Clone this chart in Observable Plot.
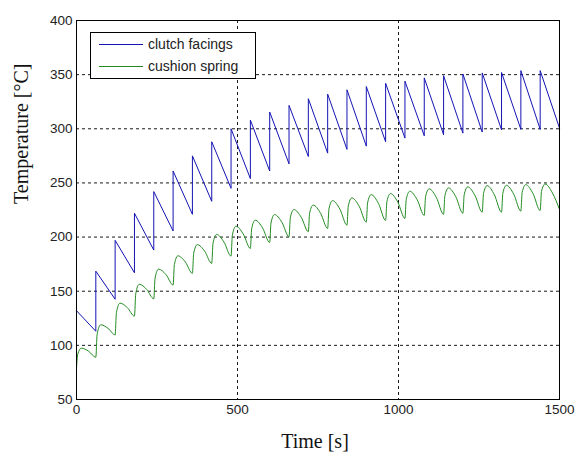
<!DOCTYPE html>
<html>
<head>
<meta charset="utf-8">
<script src="https://cdn.jsdelivr.net/npm/d3@7"></script>
<script src="https://cdn.jsdelivr.net/npm/@observablehq/plot@0.6"></script>
<style>
html, body { margin: 0; padding: 0; background: #fff; }
#wrap { position: relative; width: 575px; height: 452px; overflow: hidden; }
#legend { position: absolute; left: 90px; top: 32px; width: 164px; height: 45px; border: 1px solid #000; background: #fff;
  font-family: "Liberation Sans", Arial, sans-serif; font-size: 14px; color: #222; }
#legend .row { position: absolute; left: 0; width: 164px; height: 16px; }
#legend .sw { position: absolute; left: 8px; top: 8px; width: 44px; height: 0; border-top: 1px solid; }
#legend .lab { position: absolute; left: 57px; top: 0; line-height: 16px; white-space: nowrap; }
</style>
</head>
<body>
<div id="wrap"></div>
<script>
// ---- data ----
const xTicks = [0, 500, 1000, 1500];
const yTicks = [50, 100, 150, 200, 250, 300, 350, 400];
const seriesNames = ["clutch facings", "cushion spring"];
const seriesColors = ["#1414b4", "#228c22"];

// cycle boundaries (s): each cycle starts with a jump of the facing temperature
const cycleBounds = [0, 60, 120, 180, 240, 300, 360, 420, 480, 540, 600, 660, 720, 780, 840, 900,
  960, 1020, 1080, 1140, 1200, 1260, 1320, 1380, 1440, 1500];

// clutch facings: temperature before first jump, peak after each jump, value at end of each cycle
const blueInitial = 87;
const bluePeak = [132, 168.5, 197, 222, 242, 261, 275, 288, 300, 308, 315.5, 321.6, 327.8, 332, 336, 339,
  342, 344, 347, 349, 350.6, 351.6, 352, 353.7, 353.7];
const blueEnd = [113, 142.6, 167, 188, 205.6, 221, 233, 245, 254, 261, 267.6, 274.4, 277.5, 281, 284, 288,
  291.4, 293.5, 294.5, 296, 297, 299, 299.5, 299.5, 300.6];

// cushion spring: shape points inside each cycle (seconds after cycle start)
const greenPhase = [0, 4, 15, 38];
const greenMin = [79, 89, 109.7, 127, 143, 155.7, 166.5, 175.7, 182.4, 189.5, 195, 200.2, 205, 208, 211, 213.8,
  215.4, 217.2, 220, 221, 222, 223, 223, 224, 224.5, 225.5];
const greenRise = [91.9, 110, 130.2, 147.6, 162.2, 174.6, 185.1, 194.4, 201.7, 207.8, 213, 217.8, 222.2, 226,
  228.6, 231.6, 232.8, 234.8, 237.2, 238.1, 239, 240.2, 240.4, 241.1, 242];
const greenPeak = [97.4, 119, 139, 156.4, 170.4, 182.7, 193, 202.4, 210, 215.6, 220.8, 225.4, 229.5, 233.7,
  236.2, 239.2, 240.2, 242.3, 244.5, 245.4, 246.3, 247.5, 247.8, 248.4, 249];
const greenFall = [94.5, 115.7, 134.8, 151.7, 165.3, 177, 187, 195.4, 202.8, 208.4, 213.6, 218.3, 222, 225.8,
  228.4, 230.9, 232.2, 234.5, 236.3, 237.2, 238.1, 238.9, 239.5, 240, 240.8];

// ---- build tables ----
const blueRows = [{t: cycleBounds[0], v: blueInitial}];
for (let k = 0; k < bluePeak.length; k++) {
  blueRows.push({t: cycleBounds[k], v: bluePeak[k]});
  blueRows.push({t: cycleBounds[k + 1], v: blueEnd[k]});
}
const greenRows = [];
for (let k = 0; k < greenPeak.length; k++) {
  const t0 = cycleBounds[k];
  greenRows.push({t: t0 + greenPhase[0], v: greenMin[k]});
  greenRows.push({t: t0 + greenPhase[1], v: greenRise[k]});
  greenRows.push({t: t0 + greenPhase[2], v: greenPeak[k]});
  greenRows.push({t: t0 + greenPhase[3], v: greenFall[k]});
}
greenRows.push({t: cycleBounds[cycleBounds.length - 1], v: greenMin[greenMin.length - 1]});

const xMin = xTicks[0], xMax = xTicks[xTicks.length - 1];
const yMin = yTicks[0], yMax = yTicks[yTicks.length - 1];

const chart = Plot.plot({
  width: 575,
  height: 452,
  marginLeft: 76,
  marginRight: 16,
  marginTop: 20,
  marginBottom: 53,
  style: {background: "#fff", fontFamily: "'Liberation Sans', Arial, sans-serif", color: "#222"},
  x: {domain: [xMin, xMax]},
  y: {domain: [yMin, yMax]},
  marks: [
    Plot.gridX(xTicks.filter(d => d > xMin && d < xMax), {stroke: "#000", strokeOpacity: 0.9, strokeDasharray: "3,3"}),
    Plot.gridY(yTicks.filter(d => d > yMin && d < yMax), {stroke: "#000", strokeOpacity: 0.9, strokeDasharray: "3,3"}),
    Plot.line(greenRows, {x: "t", y: "v", stroke: seriesColors[1], strokeWidth: 1, curve: "monotone-x"}),
    Plot.line(blueRows, {x: "t", y: "v", stroke: seriesColors[0], strokeWidth: 1}),
    Plot.frame({stroke: "#000", strokeWidth: 1}),
    Plot.axisX(xTicks, {anchor: "bottom", tickSize: 0, tickPadding: 5, fontSize: 13.5, label: null, tickFormat: d => String(d)}),
    Plot.axisY(yTicks, {anchor: "left", tickSize: 0, tickPadding: 4, fontSize: 13.5, label: null, tickFormat: d => String(d)}),
    Plot.text(["Time [s]"], {frameAnchor: "bottom", dy: 42, dx: -3, lineAnchor: "middle",
      fontFamily: "'Liberation Serif', 'Times New Roman', serif", fontSize: 20, fill: "#111"}),
    Plot.text(["Temperature [°C]"], {frameAnchor: "left", dx: -55, dy: -6, rotate: -90, lineAnchor: "middle",
      fontFamily: "'Liberation Serif', 'Times New Roman', serif", fontSize: 20, fill: "#111"})
  ]
});

const wrap = document.getElementById("wrap");
wrap.appendChild(chart);

// legend (HTML overlay)
const legend = document.createElement("div");
legend.id = "legend";
seriesNames.forEach((name, i) => {
  const row = document.createElement("div");
  row.className = "row";
  row.style.top = (3 + i * 22) + "px";
  const sw = document.createElement("div");
  sw.className = "sw";
  sw.style.borderTopColor = seriesColors[i];
  const lab = document.createElement("div");
  lab.className = "lab";
  lab.textContent = name;
  row.appendChild(sw);
  row.appendChild(lab);
  legend.appendChild(row);
});
wrap.appendChild(legend);
</script>
</body>
</html>
